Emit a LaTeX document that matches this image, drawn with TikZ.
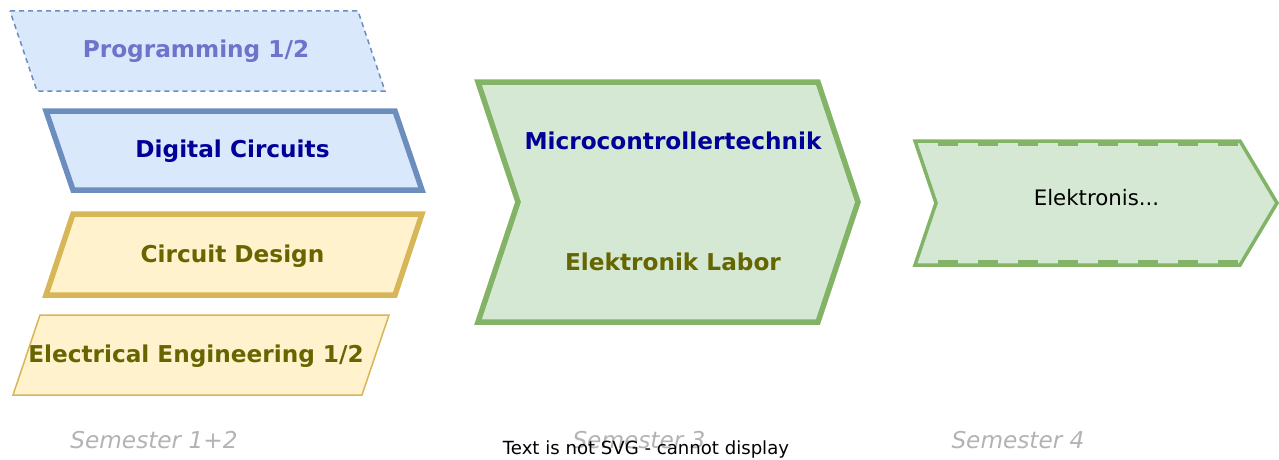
\documentclass[tikz,border=0pt]{standalone}
\usepackage{fontspec}
\setmainfont{DejaVu Sans}[BoldFont={DejaVu Sans Bold},ItalicFont={DejaVu Sans Oblique},BoldItalicFont={DejaVu Sans Bold Oblique}]
\definecolor{bluefill}{HTML}{DAE8FC}
\definecolor{bluestroke}{HTML}{6C8EBF}
\definecolor{yellowfill}{HTML}{FFF2CC}
\definecolor{yellowstroke}{HTML}{D6B656}
\definecolor{greenfill}{HTML}{D5E8D4}
\definecolor{greenstroke}{HTML}{82B366}
\definecolor{darkblue}{HTML}{000099}
\definecolor{olive}{HTML}{666600}
\definecolor{fadedblue}{HTML}{6D74CA}
\definecolor{semgrey}{HTML}{B3B3B3}
\begin{document}
\begin{tikzpicture}[x=1pt,y=-1pt,
  lbl/.style={anchor=base, inner sep=0pt, font=\fontsize{23.2}{28}\selectfont\bfseries},
  sem/.style={anchor=base, inner sep=0pt, font=\fontsize{23.2}{28}\selectfont\itshape, text=semgrey},
  bluebox/.style={fill=bluefill, draw=bluestroke},
  yellowbox/.style={fill=yellowfill, draw=yellowstroke},
  greenbox/.style={fill=greenfill, draw=greenstroke, line join=miter},
  heavy/.style={line width=5.5pt},
  light/.style={line width=1.5pt}]
\useasboundingbox (0,0) rectangle (1279,460);

% Programming 1/2 (dashed)
\draw[bluebox, light, dash pattern=on 5pt off 4pt] (10,11) -- (358,11) -- (385,91) -- (37,91) -- cycle;
\node[lbl, text=fadedblue] (prog) at (196,57) {Programming 1/2};

% Digital Circuits
\draw[bluebox, heavy] (46,111) -- (395,111) -- (422,190) -- (73,190) -- cycle;
\node[lbl, text=darkblue] (digc) at (232.5,157) {Digital Circuits};

% Circuit Design
\draw[yellowbox, heavy] (73,214) -- (422,214) -- (395,295) -- (46,295) -- cycle;
\node[lbl, text=olive] (cdes) at (232.5,262) {Circuit Design};

% Electrical Engineering 1/2
\draw[yellowbox, light] (40,315) -- (389,315) -- (362,395) -- (13,395) -- cycle;
\node[lbl, text=olive] (eleng) at (196,362) {Electrical Engineering 1/2};

% Semester 3 chevron
\draw[greenbox, heavy] (478,82) -- (818,82) -- (858,202) -- (818,322) -- (478,322) -- (518,202) -- cycle;
\node[lbl, text=darkblue] (mct) at (673,149) {Microcontrollertechnik};
\node[lbl, text=olive] (elab) at (673,270) {Elektronik Labor};

% Semester 4 chevron
\draw[greenbox, line width=3.5pt] (915,141) -- (1240,141) -- (1277,203) -- (1240,265) -- (915,265) -- (936,203) -- cycle;
\coordinate (dt1) at (938,144);
\coordinate (dt2) at (1240,144);
\coordinate (db1) at (938,262);
\coordinate (db2) at (1240,262);
\draw[greenstroke, line width=4pt, dash pattern=on 20pt off 20pt] (dt1) -- (dt2);
\draw[greenstroke, line width=4pt, dash pattern=on 20pt off 20pt] (db1) -- (db2);
\node[anchor=base, inner sep=0pt, font=\fontsize{21.3}{25}\selectfont] (elek) at (1096.5,205) {Elektronis...};

% Semester labels
\node[sem] (s12) at (154,448) {Semester 1+2};
\node[sem] (s3) at (639,448) {Semester 3};
\node[sem] (s4) at (1018,448) {Semester 4};
\node[anchor=base, inner sep=0pt, font=\fontsize{18.1}{21}\selectfont] (nosvg) at (646,454) {Text is not SVG - cannot display};
\end{tikzpicture}
\end{document}
